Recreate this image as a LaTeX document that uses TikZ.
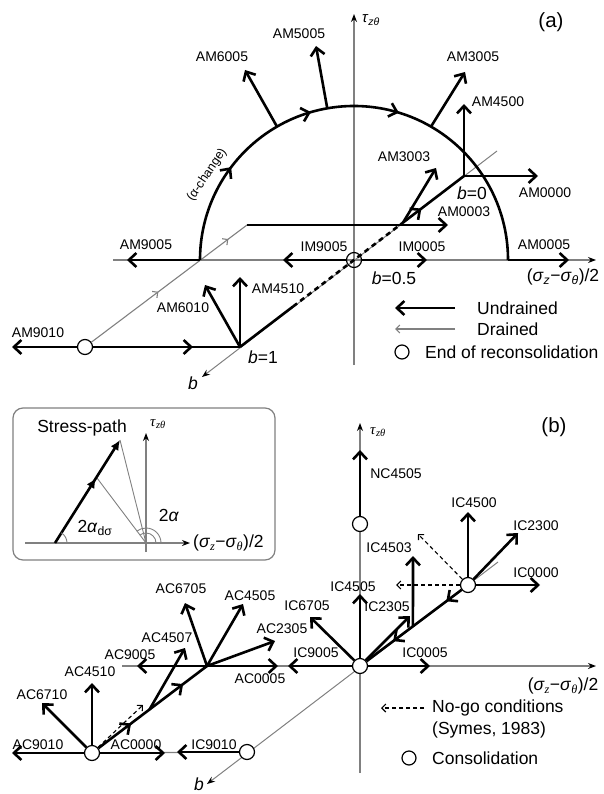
\documentclass[tikz,border=0pt]{standalone}
\usepackage{fontspec}
\setmainfont{Liberation Sans}
\newfontfamily\tms{Liberation Serif}
\usetikzlibrary{arrows.meta,calc,decorations.markings}
\newcommand{\sigax}{(\textit{σ}\textsubscript{\textit{z}}−\textit{σ}\textsubscript{\textit{θ}})/2}
\newcommand{\sigaxb}{(\textit{σ}\textsubscript{\tms\itshape z}−\textit{σ}\textsubscript{\tms\itshape θ})/2}
\newcommand{\tauzt}{\textit{τ}\textsubscript{\textit{zθ}}}
\tikzset{
  tipA/.tip={Straight Barb[length=7.5pt,width=14pt]},
  tipB/.tip={Straight Barb[length=4pt,width=8pt]},
  und/.style={line width=2.6pt,-tipA},
  thk/.style={line width=2.6pt},
  drn/.style={gray,line width=1.1pt},
  axisln/.style={gray,line width=1.2pt,-{Stealth[length=8pt,width=6pt,color=black]}},
  nogo/.style={dash pattern=on 4pt off 3pt,line width=1.1pt,-tipB},
  midarr/.style={postaction={decorate,decoration={markings,mark=at position #1 with {\arrow{tipA}}}}},
  midsm/.style={postaction={decorate,decoration={markings,mark=at position #1 with {\arrow{tipB}}}}},
  ring/.style={circle,draw,line width=1.2pt,fill=white,minimum size=15pt,inner sep=0pt},
  lbl/.style={font=\fontsize{14}{16}\selectfont,inner sep=0pt},
  big/.style={font=\fontsize{17.5}{20}\selectfont,inner sep=0pt},
}
\begin{document}
\begin{tikzpicture}[x=1pt,y=-1pt]
\useasboundingbox (0,0) rectangle (603,794);
% (a)
\coordinate (O1) at (354,260);\coordinate (L) at (200,260);\coordinate (R) at (508,260);
\coordinate (b0) at (464,176);\coordinate (b1) at (240,347);\coordinate (c2) at (247,225);
\coordinate (ax0) at (113,260);\coordinate (ax1) at (596,260);
\coordinate (ay0) at (354,365);\coordinate (ay1) at (354,14);
\coordinate (bb0) at (497,151);\coordinate (bb1) at (202,377);
\draw[axisln] (ax0)--(ax1);
\draw[axisln] (ay0)--(ay1);
\draw[axisln,line width=1pt] (bb0)--(bb1);
\node[ring] (c1) at (85,347) {};
\node[ring,fill=none] (oa) at (O1) {};
\draw[drn,midsm=0.43,midsm=0.88] (c1)--(c2);
\draw[thk,midarr=0.206,midarr=0.41,midarr=0.594] (L) arc[start angle=180,end angle=360,radius=154];
\node[lbl,rotate=56,font=\fontsize{12.5}{14}\selectfont] (alc) at (207,175) {(α-change)};
\coordinate (p6005) at ($(O1)+(240:154)$);\coordinate (p5005) at ($(O1)+(260:154)$);
\coordinate (p3005) at ($(O1)+(300:154)$);
\coordinate (t6005) at (245,70);\coordinate (t5005) at (316,46);\coordinate (t3005) at (465,72);
\coordinate (t4500) at (464,104);\coordinate (t0000) at (538,176);\coordinate (t3003) at (436,168);
\coordinate (t0003) at (448,225);\coordinate (t9005) at (127,260);\coordinate (ti9005) at (283,260);
\coordinate (ti0005) at (427,260);\coordinate (t0005) at (569,260);\coordinate (t9010) at (12,347);
\coordinate (t6010) at (205,285);\coordinate (t4510) at (240,277);
\coordinate (da) at ($(b1)!0.237!(b0)$);\coordinate (db) at ($(b1)!0.728!(b0)$);
\draw[und] (p6005)--(t6005);
\draw[und] (p5005)--(t5005);
\draw[und] (p3005)--(t3005);
\draw[und] (c2)--(t0003);
\draw[thk] (b1)--(da);
\draw[thk,dash pattern=on 5pt off 4pt] (da)--(db);
\draw[thk,midarr=0.3] (db)--(b0);
\draw[und] (db)--(t3003);
\draw[und] (b0)--(t4500);
\draw[und] (b0)--(t0000);
\draw[und] (L)--(t9005);
\draw[und] (oa)--(ti9005);
\draw[und] (oa)--(ti0005);
\draw[und] (R)--(t0005);
\draw[und] (c1)--(t9010);
\draw[thk,midarr=0.68] (c1)--(b1);
\draw[und] (b1)--(t6010);
\draw[und] (b1)--(t4510);
\node[lbl] (l6005) at (222,57) {AM6005};
\node[lbl] (l5005) at (299,34) {AM5005};
\node[lbl] (l3005) at (473,57) {AM3005};
\node[lbl] (l4500) at (498,102) {AM4500};
\node[lbl] (l0000) at (545,193) {AM0000};
\node[lbl] (l3003) at (404,157) {AM3003};
\node[lbl] (l0003) at (464,212) {AM0003};
\node[lbl] (l9005) at (146,245) {AM9005};
\node[lbl] (li9005) at (324,247) {IM9005};
\node[lbl] (li0005) at (422,247) {IM0005};
\node[lbl] (l0005) at (544,245) {AM0005};
\node[lbl] (l9010) at (38,333) {AM9010};
\node[lbl] (l6010) at (183,308) {AM6010};
\node[lbl] (l4510) at (278,289) {AM4510};
\node[big] (lb0) at (472,193) {\textit{b}=0};
\node[big] (lb5) at (394,278) {\textit{b}=0.5};
\node[big] (lb1) at (263,357) {\textit{b}=1};
\node[big] (lba) at (193,383) {\textit{b}};
\node[big,font=\fontsize{15}{18}\selectfont] (ltau) at (371,20) {\tauzt};
\node[big] (lsig) at (563,277) {\sigax};
\node[big,font=\fontsize{20.5}{24}\selectfont] (la) at (551,22) {(a)};
\coordinate (g1) at (455,308);\coordinate (g1e) at (395,308);
\coordinate (g2) at (455,329);\coordinate (g2e) at (395,329);
\draw[und] (g1)--(g1e);
\draw[drn,-tipB] (g2)--(g2e);
\node[ring,minimum size=14pt] (g3) at (402,352) {};
\node[big,anchor=west] (tg1) at (477,308) {Undrained};
\node[big,anchor=west] (tg2) at (477,329) {Drained};
\node[big,anchor=west] (tg3) at (425,352) {End of reconsolidation};
% (b) inset
\draw[gray,line width=1.2pt,rounded corners=10pt] (13,408) rectangle (275,560);
\coordinate (io) at (146,543);
\coordinate (ix0) at (25,543);\coordinate (ix1) at (190,543);
\coordinate (iy0) at (146,552);\coordinate (iy1) at (146,433);
\coordinate (sp0) at (55,543);\coordinate (sp1) at (97,478);\coordinate (sp2) at (120,440);
\draw[axisln] (ix0)--(ix1);
\draw[axisln] (iy0)--(iy1);
\draw[gray,line width=0.9pt] (sp2)--(io) (sp1)--(io);
\draw[thk,-{Latex[length=10pt,width=9pt]},postaction={decorate,decoration={markings,mark=at position 0.63 with {\arrow{Latex[length=10pt,width=9pt]}}}}] (sp0)--(sp2);
\draw[gray,line width=0.9pt] ($(sp0)+(12,0)$) arc[start angle=0,end angle=-58,radius=12];
\draw[gray,line width=0.9pt] ($(io)+(10,0)$) arc[start angle=0,end angle=-128,radius=10];
\draw[gray,line width=0.9pt] ($(io)+(15,0)$) arc[start angle=0,end angle=-128,radius=15];
\node[big] (lsp) at (82,428) {Stress-path};
\node[big,font=\fontsize{15}{18}\selectfont\tms] (itau) at (158,424) {\tauzt};
\node[big,anchor=west] (isig) at (193,543) {\sigaxb};
\node[big] (iad) at (95,528) {2\textit{α}\textsubscript{dσ}};
\node[big] (ia) at (169,515) {2\textit{α}};
% (b)
\coordinate (bx0) at (122,666);\coordinate (bx1) at (596,666);
\coordinate (by0) at (360,773);\coordinate (by1) at (360,423);
\coordinate (bz0) at (498,562);\coordinate (bz1) at (207,784);
\draw[axisln] (bx0)--(bx1);
\draw[axisln] (by0)--(by1);
\draw[axisln,line width=1pt] (bz0)--(bz1);
\node[ring] (ob) at (360,666) {};
\node[ring] (nc) at (360,524) {};
\node[ring] (ic) at (468,585) {};
\node[ring] (ic9) at (247,752) {};
\node[ring] (ac) at (92,753) {};
\coordinate (acp) at (207,666);
\draw[drn] (ac)--(ic9);
\coordinate (n4505) at (360,450);\coordinate (i4500) at (468,512);\coordinate (i2300) at (518,533);
\coordinate (i0000) at (540,585);\coordinate (ng1) at (418,534);\coordinate (ng2) at (396,585);
\coordinate (i4503) at (413,556);\coordinate (i2305) at (410,616);\coordinate (i4505) at (360,594);
\coordinate (i6705) at (310,617);\coordinate (i9005) at (288,666);\coordinate (i0005) at (430,666);
\coordinate (i9010) at (177,752);\coordinate (a9010) at (12,753);\coordinate (a0000) at (165,753);
\coordinate (a6710) at (42,703);\coordinate (a4510) at (92,683);\coordinate (ng3) at (143,705);
\coordinate (a4507) at (185,648);\coordinate (a9005) at (137,666);\coordinate (a0005) at (278,666);
\coordinate (a6705) at (185,603);\coordinate (a4505) at (243,604);\coordinate (a2305) at (275,641);
\coordinate (icm) at ($(ic)!0.51!(ob)$);\coordinate (acm) at ($(ac)!0.5!(acp)$);
\draw[und] (nc)--(n4505);
\draw[und] (ic)--(i4500);
\draw[und] (ic)--(i2300);
\draw[und] (ic)--(i0000);
\draw[nogo] (ic)--(ng1);
\draw[nogo] (ic)--(ng2);
\draw[thk,midarr=0.16,midarr=0.72] (ic)--(ob);
\draw[und] (icm)--(i4503);
\draw[und] (ob)--(i2305);
\draw[und] (ob)--(i4505);
\draw[und] (ob)--(i6705);
\draw[und] (ob)--(i9005);
\draw[und] (ob)--(i0005);
\draw[und] (ic9)--(i9010);
\draw[und] (ac)--(a9010);
\draw[und] (ac)--(a0000);
\draw[und] (ac)--(a6710);
\draw[und] (ac)--(a4510);
\draw[nogo] (ac)--(ng3);
\draw[thk,midarr=0.3,midarr=0.78] (ac)--(acp);
\draw[und] (acm)--(a4507);
\draw[und] (acp)--(a9005);
\draw[und] (acp)--(a0005);
\draw[und] (acp)--(a6705);
\draw[und] (acp)--(a4505);
\draw[und] (acp)--(a2305);
\node[lbl] (ln4505) at (396,474) {NC4505};
\node[lbl] (li4500) at (474,503) {IC4500};
\node[lbl] (li2300) at (536,526) {IC2300};
\node[lbl] (li0000) at (536,573) {IC0000};
\node[lbl] (li4503) at (389,548) {IC4503};
\node[lbl] (li2305) at (387,607) {IC2305};
\node[lbl] (li4505) at (353,587) {IC4505};
\node[lbl] (li6705) at (307,606) {IC6705};
\node[lbl] (li9005b) at (316,653) {IC9005};
\node[lbl] (li0005b) at (425,653) {IC0005};
\node[lbl] (li9010) at (214,745) {IC9010};
\node[lbl] (la9010) at (38,745) {AC9010};
\node[lbl] (la0000) at (136,745) {AC0000};
\node[lbl] (la6710) at (42,695) {AC6710};
\node[lbl] (la4510) at (90,672) {AC4510};
\node[lbl] (la4507) at (167,638) {AC4507};
\node[lbl] (la9005) at (130,655) {AC9005};
\node[lbl] (la0005) at (260,679) {AC0005};
\node[lbl] (la6705) at (181,589) {AC6705};
\node[lbl] (la4505) at (250,596) {AC4505};
\node[lbl] (la2305) at (282,629) {AC2305};
\node[big,font=\fontsize{15}{18}\selectfont\tms] (btau) at (378,432) {\tauzt};
\node[big] (bsig) at (563,686) {\sigaxb};
\node[big] (lbb) at (199,784) {\textit{b}};
\node[big,font=\fontsize{20.5}{24}\selectfont] (lbp) at (554,427) {(b)};
\coordinate (h1) at (424,708);\coordinate (h1e) at (381,708);
\draw[nogo] (h1)--(h1e);
\node[ring,minimum size=14pt] (h3) at (409,758) {};
\node[big,anchor=west] (th1) at (432,708) {No-go conditions};
\node[big,anchor=west] (th2) at (432,730) {(Symes, 1983)};
\node[big,anchor=west] (th3) at (432,758) {Consolidation};
\end{tikzpicture}
\end{document}
